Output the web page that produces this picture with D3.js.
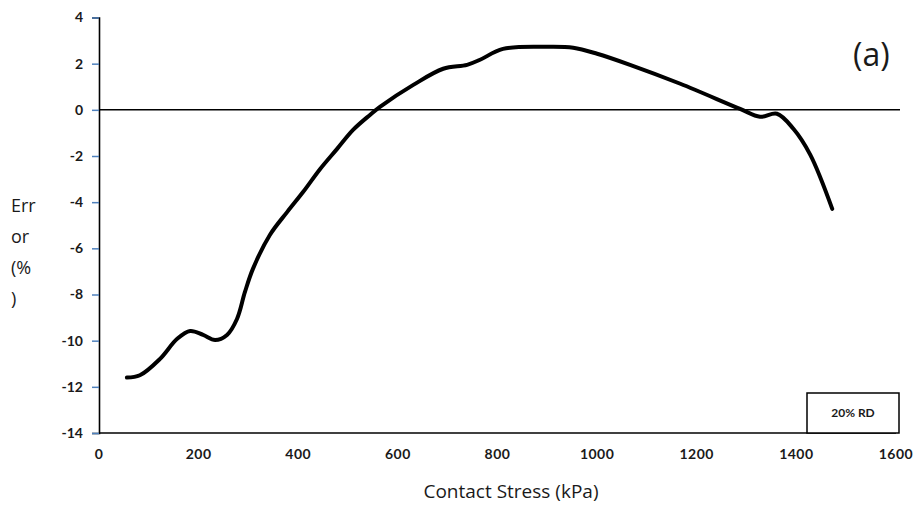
<!DOCTYPE html>
<html>
<head>
<meta charset="utf-8">
<script src="https://d3js.org/d3.v7.min.js"></script>
<style>
  body { margin: 0; background: #fff; }
  text { font-family: "Open Sans", Lato, sans-serif; fill: #1a1a1a; }
</style>
</head>
<body>
<script>
// values
var stress = [56, 82, 122, 157, 183, 209, 233, 257, 277, 293, 309, 343, 378, 410, 444, 478, 510, 544, 564, 631, 691, 739, 765, 811, 900, 952, 1000, 1066, 1167, 1287, 1327, 1361, 1394, 1428, 1472];
var errorPct = [-11.6, -11.5, -10.8, -9.92, -9.58, -9.75, -9.97, -9.75, -9.06, -7.89, -6.89, -5.42, -4.42, -3.55, -2.56, -1.69, -0.87, -0.22, 0.13, 1.08, 1.78, 1.95, 2.17, 2.64, 2.73, 2.69, 2.43, 1.95, 1.13, 0.04, -0.3, -0.17, -0.82, -1.95, -4.29];
var xTicks = [0, 200, 400, 600, 800, 1000, 1200, 1400, 1600];
var yTicks = [4, 2, 0, -2, -4, -6, -8, -10, -12, -14];
var yTitle = ["Err", "or", "(%", ")"];

var W = 913, H = 511;
var svg = d3.select("body").append("svg").attr("width", W).attr("height", H);

var x = d3.scaleLinear().domain([0, 1600]).range([99, 896]);
var y = d3.scaleLinear().domain([-14, 4]).range([433, 17.5]);

// y axis
var yAxis = svg.append("g").attr("transform", "translate(99,0)")
  .call(d3.axisLeft(y).tickValues(yTicks).tickSize(7).tickPadding(9)
    .tickFormat(function(d) { return String(d); }));
yAxis.select(".domain").attr("stroke", "#000").attr("stroke-width", 1.6);
yAxis.selectAll(".tick line").attr("stroke", "#4f81bd").attr("stroke-width", 1.5);
yAxis.selectAll(".tick text").style("font-size", "14px").style("font-weight", "bold")
  .style("font-family", "Lato, sans-serif").attr("fill", "#222");

// x axis: line only, labels under it
svg.append("line").attr("x1", x(0)).attr("x2", x(1600)).attr("y1", y(-14)).attr("y2", y(-14))
  .attr("stroke", "#000").attr("stroke-width", 1.6);
svg.selectAll(".xl").data(xTicks).enter().append("text")
  .attr("x", function(d) { return x(d); })
  .attr("y", 459)
  .attr("text-anchor", "middle")
  .style("font-size", "14px").style("font-weight", "bold").style("font-family", "Lato, sans-serif")
  .style("letter-spacing", "0.5px")
  .text(function(d) { return d; });

// zero line
svg.append("line").attr("x1", x(0)).attr("x2", 900).attr("y1", y(0)).attr("y2", y(0))
  .attr("stroke", "#000").attr("stroke-width", 1.5);

// curve
var pts = stress.map(function(s, i) { return [s, errorPct[i]]; });
var line = d3.line()
  .x(function(d) { return x(d[0]); })
  .y(function(d) { return y(d[1]); })
  .curve(d3.curveCatmullRom.alpha(0.5));
svg.append("path").datum(pts).attr("d", line)
  .attr("fill", "none").attr("stroke", "#000").attr("stroke-width", 4)
  .attr("stroke-linecap", "round").attr("stroke-linejoin", "round");

// titles
svg.append("text").attr("x", 511).attr("y", 498).attr("text-anchor", "middle")
  .style("font-size", "19px").text("Contact Stress (kPa)");
svg.selectAll(".yt").data(yTitle).enter().append("text")
  .attr("x", 11)
  .attr("y", function(d, i) { return 212 + i * 31; })
  .style("font-size", "18px")
  .text(function(d) { return d; });

svg.append("text").attr("x", 853).attr("y", 66)
  .style("font-size", "32px").text("(a)");

// label box
svg.append("rect").attr("x", 807).attr("y", 393).attr("width", 92).attr("height", 40)
  .attr("fill", "#fff").attr("stroke", "#000").attr("stroke-width", 1.5);
svg.append("text").attr("x", 853).attr("y", 417).attr("text-anchor", "middle")
  .style("font-size", "12px").style("font-weight", "bold").style("font-family", "Lato, sans-serif")
  .text("20% RD");
</script>
</body>
</html>
